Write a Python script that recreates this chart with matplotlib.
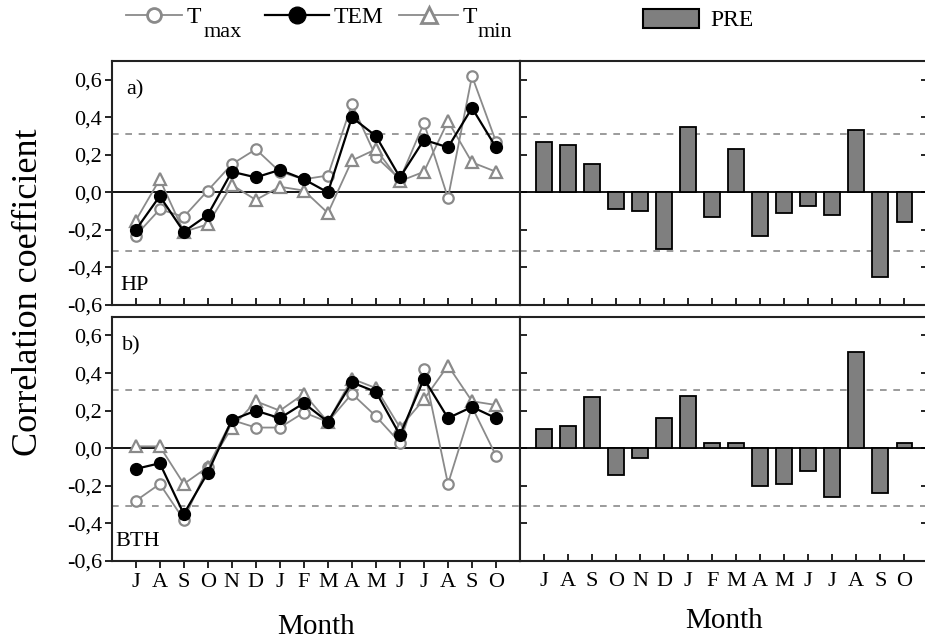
import matplotlib
matplotlib.use("Agg")
import matplotlib.pyplot as plt
import numpy as np
from matplotlib.lines import Line2D
from matplotlib.patches import Patch

plt.rcParams['font.family'] = ['Liberation Serif', 'DejaVu Serif']

months = ["J", "A", "S", "O", "N", "D", "J", "F", "M", "A", "M", "J", "J", "A", "S", "O"]
yticks = [-0.6, -0.4, -0.2, 0.0, 0.2, 0.4, 0.6]
ytick_labels = ["-0,6", "-0,4", "-0,2", "0,0", "0,2", "0,4", "0,6"]
sig_level = 0.31

# HP
hp_tmax = [-0.23, -0.09, -0.13, 0.01, 0.15, 0.23, 0.11, 0.07, 0.09, 0.47, 0.19, 0.07, 0.37, -0.03, 0.62, 0.27]
hp_tem = [-0.20, -0.02, -0.21, -0.12, 0.11, 0.08, 0.12, 0.07, 0.00, 0.40, 0.30, 0.08, 0.28, 0.24, 0.45, 0.24]
hp_tmin = [-0.15, 0.07, -0.21, -0.17, 0.04, -0.04, 0.03, 0.01, -0.11, 0.17, 0.23, 0.06, 0.11, 0.38, 0.16, 0.11]
hp_pre = [0.27, 0.25, 0.15, -0.09, -0.10, -0.30, 0.35, -0.13, 0.23, -0.23, -0.11, -0.07, -0.12, 0.33, -0.45, -0.16]

# BTH
bth_tmax = [-0.28, -0.19, -0.38, -0.10, 0.15, 0.11, 0.11, 0.19, 0.14, 0.29, 0.17, 0.03, 0.42, -0.19, 0.22, -0.04]
bth_tem = [-0.11, -0.08, -0.35, -0.13, 0.15, 0.20, 0.16, 0.24, 0.14, 0.35, 0.30, 0.07, 0.37, 0.16, 0.22, 0.16]
bth_tmin = [0.01, 0.01, -0.19, -0.10, 0.11, 0.25, 0.20, 0.29, 0.14, 0.37, 0.32, 0.11, 0.26, 0.44, 0.25, 0.23]
bth_pre = [0.10, 0.12, 0.27, -0.14, -0.05, 0.16, 0.28, 0.03, 0.03, -0.20, -0.19, -0.12, -0.26, 0.51, -0.24, 0.03]

x = np.arange(1, len(months) + 1)
GRAY = '#8a8a8a'
BAR = '#7f7f7f'

FW, FH = 925, 639
fig = plt.figure(figsize=(9.25, 6.39), dpi=100)
L, W = 0.1208, 0.4414
axTL = fig.add_axes([L, 0.5227, W, 0.3818])
axTR = fig.add_axes([L + W, 0.5227, W, 0.3818])
axBL = fig.add_axes([L, 0.1221, W, 0.3823])
axBR = fig.add_axes([L + W, 0.1221, W, 0.3823])


def style(ax, left, bottom):
    ax.set_xlim(0, 17)
    ax.set_ylim(-0.6, 0.7)
    ax.set_xticks(x)
    ax.set_yticks(yticks)
    for s in ax.spines.values():
        s.set_linewidth(1.5)
        s.set_color('#222222')
    ax.axhline(0, color='black', lw=1.3, zorder=1)
    for v in (sig_level, -sig_level):
        ax.axhline(v, color=GRAY, lw=1.2, ls=(0, (4, 4)), zorder=1)
    if left:
        ax.set_yticklabels(ytick_labels)
        ax.tick_params(axis='y', direction='out', length=5, width=1.2, labelsize=16, pad=2)
    else:
        ax.set_yticklabels([])
        ax.tick_params(axis='y', direction='in', length=5, width=1.2, left=True, right=True)
    out = left and bottom
    ax.tick_params(axis='x', direction=('out' if out else 'in'), length=5, width=1.2)
    if bottom:
        ax.set_xticklabels(months)
        ax.tick_params(axis='x', labelsize=16, pad=(4 if out else 8))
        ax.set_xlabel("Month", fontsize=21)
        ax.xaxis.label.set_va('center')
        ax.xaxis.set_label_coords(0.5, -0.270 if left else -0.246)
    else:
        ax.set_xticklabels([])


def lines(ax, tmax, tem, tmin):
    ax.plot(x, tmax, color=GRAY, lw=1.3, marker='o', ms=7.5, mfc='white', mec=GRAY, mew=1.6, zorder=3)
    ax.plot(x, tmin, color=GRAY, lw=1.3, marker='^', ms=8.5, mfc='white', mec=GRAY, mew=1.6, zorder=3)
    ax.plot(x, tem, color='black', lw=1.6, marker='o', ms=8.5, mfc='black', mec='black', zorder=4)


lines(axTL, hp_tmax, hp_tem, hp_tmin)
lines(axBL, bth_tmax, bth_tem, bth_tmin)
axTR.bar(x, hp_pre, width=0.65, color=BAR, edgecolor='black', linewidth=1.3, zorder=2)
axBR.bar(x, bth_pre, width=0.65, color=BAR, edgecolor='black', linewidth=1.3, zorder=2)

style(axTL, True, False)
style(axTR, False, False)
style(axBL, True, True)
style(axBR, False, True)

axTL.text(0.035, 0.92, "a)", transform=axTL.transAxes, fontsize=16, va='top')
axTL.text(0.02, 0.04, "HP", transform=axTL.transAxes, fontsize=16, va='bottom')
axBL.text(0.025, 0.92, "b)", transform=axBL.transAxes, fontsize=16, va='top')
axBL.text(0.01, 0.04, "BTH", transform=axBL.transAxes, fontsize=16, va='bottom')

fig.text(0.013, 1 - 292 / FH, "Correlation coefficient", rotation=90, fontsize=26, va='center', ha='left')

# legend entries, each placed on its own
ly = 1 - 17 / FH
entries = [
    (Line2D([], [], color=GRAY, lw=1.3, marker='o', ms=10, mfc='white', mec=GRAY, mew=2.0),
     "T", 126, 2.37),
    (Line2D([], [], color='black', lw=1.6, marker='o', ms=12, mfc='black', mec='black'),
     "TEM", 265, 2.7),
    (Line2D([], [], color=GRAY, lw=1.3, marker='^', ms=12, mfc='white', mec=GRAY, mew=2.0),
     "T", 399, 2.5),
]
for h, lab, px, hl in entries:
    fig.legend([h], [lab], loc='center left', bbox_to_anchor=(px / FW, ly), frameon=False,
               fontsize=17, handlelength=hl, handletextpad=0.2, borderpad=0, borderaxespad=0)
# subscripts of the legend labels
fig.text(204 / FW, 1 - 37 / FH, "max", fontsize=16, va='baseline', ha='left')
fig.text(478 / FW, 1 - 37 / FH, "min", fontsize=16, va='baseline', ha='left')

fig.legend([Patch(facecolor=BAR, edgecolor='black', linewidth=1.5)], ["PRE"], loc='center left',
           bbox_to_anchor=(643 / FW, 1 - 20 / FH), frameon=False, fontsize=17, handlelength=2.37,
           handleheight=0.85, handletextpad=0.5, borderpad=0, borderaxespad=0)

fig.savefig("out.png", dpi=100)
